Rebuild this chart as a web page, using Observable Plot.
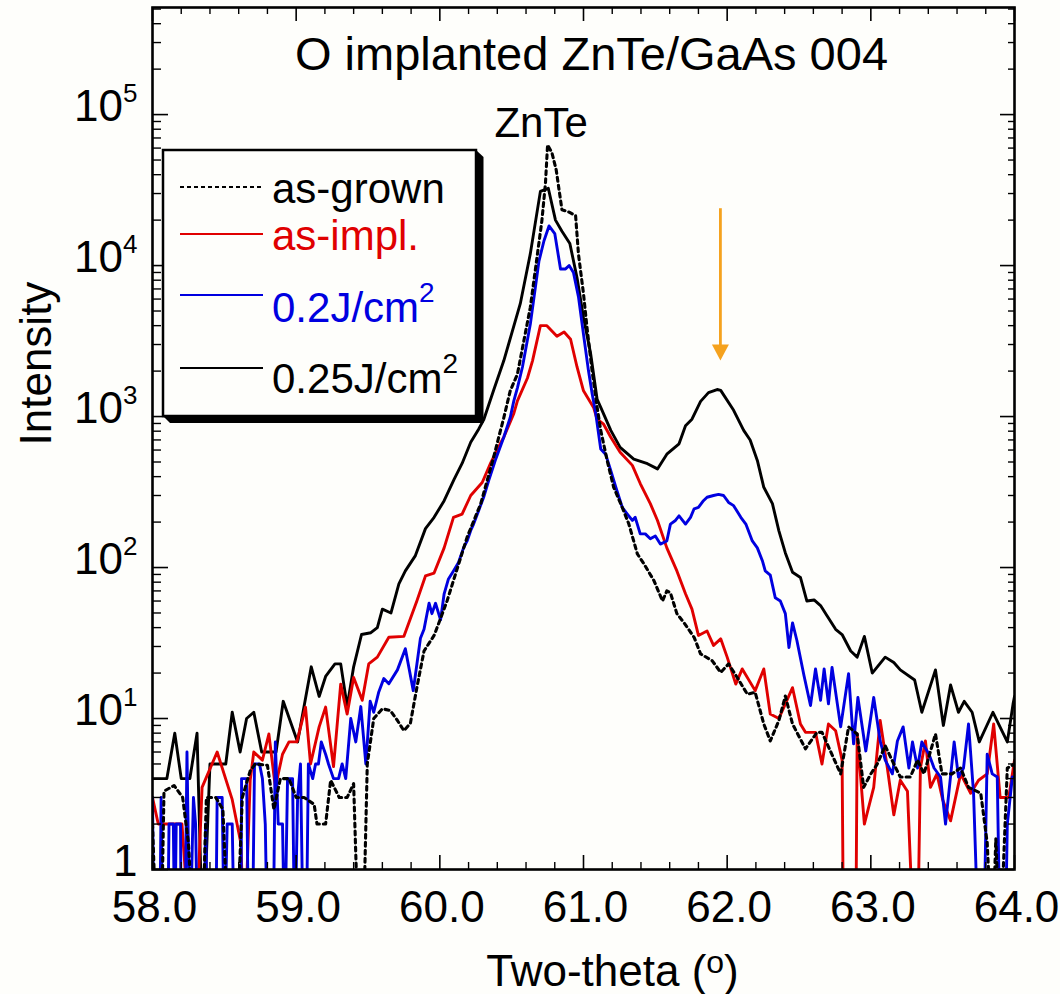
<!DOCTYPE html>
<html><head><meta charset="utf-8">
<script src="https://cdn.jsdelivr.net/npm/d3@7"></script>
<script src="https://cdn.jsdelivr.net/npm/@observablehq/plot@0.6"></script>
<style>
html,body{margin:0;padding:0;background:#fefefb;}
#chart svg{display:block;}
</style></head><body><div id="chart"></div>
<script>
// ---- data: [two-theta (deg), intensity]; values < 1 are zero-count dips (clipped) ----
const asGrown = [[58.00,2],[58.03,0.3],[58.06,0.3],[58.08,3.3],[58.15,3.6],[58.21,3],[58.25,1.5],[58.29,0.3],[58.345,0.3],[58.375,3],[58.44,3],[58.49,2.5],[58.53,0.3],[58.585,0.3],[58.625,3],[58.68,4.5],[58.715,5],[58.80,4.9],[58.845,2.5],[58.89,4],[58.95,4],[59.00,3],[59.055,3],[59.125,2.7],[59.145,2],[59.205,2],[59.24,3.9],[59.30,3],[59.355,3],[59.40,3.7],[59.435,0.3],[59.465,0.3],[59.495,5],[59.54,10],[59.60,11.6],[59.655,11.3],[59.705,9.7],[59.75,8.3],[59.795,9.3],[59.84,16],[59.89,28],[59.96,35.5],[60.005,46],[60.05,60],[60.095,82],[60.19,159],[60.285,265],[60.375,540],[60.41,730],[60.445,980],[60.49,1480],[60.54,1910],[60.63,5300],[60.71,19700],[60.735,34800],[60.75,63000],[60.78,55900],[60.81,43000],[60.85,23400],[60.90,22600],[60.945,21400],[60.965,11900],[61.00,6500],[61.025,3840],[61.06,2000],[61.095,1150],[61.12,810],[61.165,510],[61.21,340],[61.27,250],[61.315,195],[61.375,123],[61.42,106],[61.49,82],[61.55,60],[61.58,70],[61.605,68],[61.65,49.5],[61.70,43],[61.77,34.5],[61.815,26.8],[61.895,24.2],[61.955,20.2],[62.01,23],[62.07,18.7],[62.14,14.5],[62.195,14.9],[62.255,9.2],[62.30,7.1],[62.36,9.7],[62.405,14.1],[62.455,9.2],[62.545,6.3],[62.625,8.1],[62.66,8.1],[62.79,4.3],[62.845,8.8],[62.905,7.9],[62.95,3.5],[63.00,4.3],[63.045,5],[63.10,6.6],[63.16,5],[63.205,4.1],[63.275,4.1],[63.325,5.3],[63.37,4.3],[63.45,7.9],[63.495,4.3],[63.565,4.3],[63.625,4.7],[63.68,3.5],[63.765,3.2],[63.81,1.5],[63.845,0.3],[63.87,1.6],[63.90,0.3],[63.95,4.7],[64.00,5]];

const asImpl = [[58.00,3],[58.04,2],[58.205,2],[58.265,0.3],[58.30,0.3],[58.345,3.5],[58.45,6],[58.555,2.9],[58.615,1.5],[58.64,0.3],[58.68,3.9],[58.705,6],[58.765,5.3],[58.81,7.9],[58.855,3.5],[58.905,5.8],[58.95,7],[59.005,7],[59.065,11.9],[59.10,5],[59.16,8.8],[59.205,11.9],[59.26,4.8],[59.31,16.9],[59.355,10.7],[59.40,18.7],[59.46,13.2],[59.505,23],[59.565,25.5],[59.645,34.5],[59.75,35],[59.84,60],[59.90,88],[59.96,92],[60.03,135],[60.095,215],[60.155,226],[60.215,300],[60.295,366],[60.355,495],[60.42,660],[60.445,730],[60.515,1050],[60.54,1270],[60.61,1800],[60.645,2340],[60.70,4000],[60.745,4000],[60.815,3400],[60.865,3630],[60.91,3250],[60.955,2130],[61.00,1480],[61.07,1150],[61.095,960],[61.14,890],[61.19,730],[61.255,580],[61.34,475],[61.395,360],[61.465,265],[61.515,205],[61.58,135],[61.65,95],[61.71,67],[61.755,53],[61.80,35.5],[61.86,38],[61.905,30.5],[61.955,33.7],[62.00,25.5],[62.06,16.9],[62.105,21.3],[62.195,15.3],[62.255,21.3],[62.30,10.7],[62.36,10],[62.405,12.5],[62.455,16],[62.51,9.2],[62.545,8.1],[62.615,8.1],[62.66,5],[62.705,9.2],[62.755,8.3],[62.80,5.3],[62.81,0.3],[62.895,0.3],[62.905,7.9],[62.955,2],[63.02,3.5],[63.065,9.7],[63.115,4.7],[63.16,2.3],[63.205,3.9],[63.255,3.3],[63.30,0.3],[63.325,0.3],[63.345,4.7],[63.38,7.1],[63.415,3.5],[63.46,4.3],[63.50,2.9],[63.555,2.1],[63.625,4.3],[63.695,3.2],[63.75,3.9],[63.81,4.3],[63.855,9.2],[63.90,3],[63.96,3],[64.00,5.3]];

const laser020 = [[58.00,3],[58.01,0.3],[58.05,0.3],[58.06,3],[58.07,0.3],[58.105,0.3],[58.115,2],[58.145,2],[58.155,0.3],[58.165,2],[58.195,2],[58.20,0.3],[58.225,0.3],[58.24,6],[58.26,0.3],[58.285,3],[58.30,2],[58.315,0.3],[58.355,0.3],[58.37,2],[58.385,0.3],[58.44,0.3],[58.45,3],[58.485,3],[58.50,0.3],[58.52,2],[58.555,2],[58.57,0.3],[58.615,0.3],[58.62,4],[58.655,4],[58.67,0.3],[58.695,0.3],[58.71,5],[58.745,5],[58.765,4],[58.785,2],[58.80,0.3],[58.84,0.3],[58.855,7],[58.875,2],[58.905,2],[58.92,0.3],[58.94,4],[58.975,4],[58.99,0.3],[59.01,3],[59.03,5],[59.05,0.3],[59.07,0.3],[59.085,5],[59.115,4],[59.135,5],[59.155,5],[59.175,7],[59.205,5.8],[59.225,5],[59.26,4],[59.295,4],[59.32,5],[59.345,4],[59.38,10],[59.415,7],[59.45,12],[59.485,5],[59.515,13],[59.54,11],[59.575,15],[59.61,18.4],[59.645,17],[59.705,21],[59.76,29],[59.815,15.3],[59.865,34],[59.89,39],[59.925,58],[59.945,49.5],[59.97,58],[60.005,45],[60.03,67],[60.06,84],[60.095,95],[60.13,108],[60.165,135],[60.19,150],[60.215,176],[60.235,194],[60.27,238],[60.305,292],[60.34,376],[60.385,510],[60.445,730],[60.49,985],[60.515,1270],[60.54,1550],[60.575,2130],[60.63,4100],[60.69,10700],[60.725,14600],[60.76,18300],[60.80,16300],[60.84,9500],[60.875,9500],[60.90,10000],[60.93,9000],[60.965,6200],[61.00,3500],[61.035,2000],[61.06,1420],[61.085,1050],[61.12,610],[61.155,560],[61.19,438],[61.225,340],[61.27,250],[61.305,226],[61.34,205],[61.36,215],[61.395,167],[61.43,167],[61.465,155],[61.50,162],[61.535,143],[61.58,150],[61.605,194],[61.64,205],[61.665,220],[61.71,194],[61.745,215],[61.77,245],[61.80,250],[61.835,277],[61.86,292],[61.905,300],[61.94,305],[61.975,300],[62.01,270],[62.045,257],[62.095,215],[62.13,194],[62.175,150],[62.21,135],[62.245,111],[62.265,95],[62.30,89],[62.335,63],[62.37,60],[62.405,49.5],[62.43,29.5],[62.455,43],[62.485,33],[62.535,19.2],[62.58,12.2],[62.615,21.3],[62.65,13.2],[62.675,21.3],[62.705,12.5],[62.73,21.8],[62.79,8.8],[62.845,19.8],[62.88,6.8],[62.91,13.8],[62.965,6.1],[63.02,13.8],[63.065,7.1],[63.10,5.3],[63.15,4.3],[63.185,7.1],[63.225,8.8],[63.265,4.7],[63.29,7],[63.325,4.7],[63.355,7],[63.405,5.8],[63.44,4.7],[63.485,4.1],[63.52,2],[63.58,7],[63.61,4.1],[63.645,4.7],[63.68,9.2],[63.715,3.2],[63.75,0.3],[63.785,0.3],[63.81,5.8],[63.845,4.3],[63.88,4.1],[63.90,0.3],[63.935,0.3],[63.95,2],[63.985,4.1],[64.00,4.1]];

const laser025 = [[58.00,4],[58.10,4],[58.155,8],[58.20,4],[58.26,4],[58.31,8],[58.35,0.3],[58.40,5],[58.51,5],[58.555,11],[58.61,6],[58.655,10],[58.705,11],[58.76,6],[58.86,6],[58.91,13],[59.01,7],[59.105,22],[59.16,14],[59.205,19],[59.27,23],[59.31,23],[59.355,12],[59.40,22],[59.455,36],[59.52,37],[59.565,40],[59.60,53],[59.66,50],[59.715,78],[59.76,95],[59.83,120],[59.90,181],[59.96,215],[60.03,277],[60.10,385],[60.155,489],[60.215,675],[60.27,825],[60.305,950],[60.375,1500],[60.445,2340],[60.56,5590],[60.63,12000],[60.70,31000],[60.755,32500],[60.805,20000],[60.85,16900],[60.905,14000],[60.955,8300],[61.00,4530],[61.05,2600],[61.095,1300],[61.12,1150],[61.19,810],[61.255,625],[61.35,522],[61.445,487],[61.515,450],[61.58,563],[61.665,660],[61.71,870],[61.755,960],[61.815,1260],[61.87,1440],[61.93,1510],[61.955,1490],[62.045,1100],[62.115,810],[62.16,700],[62.21,512],[62.255,340],[62.315,265],[62.36,175],[62.405,125],[62.455,93],[62.51,86],[62.555,60],[62.605,61],[62.65,56],[62.695,48],[62.755,39],[62.80,36],[62.86,28],[62.905,25.5],[62.955,35],[63.01,20],[63.10,25.5],[63.16,23.5],[63.205,21],[63.305,18],[63.355,11],[63.45,21],[63.505,9],[63.555,16.7],[63.61,11],[63.65,13],[63.705,11],[63.755,7],[63.85,11],[63.95,7],[63.99,12.5],[64.00,14]];

// ---- labels & ticks ----
const seriesNames  = ["as-grown", "as-impl.", "0.2J/cm^2", "0.25J/cm^2"];
const seriesColors = ["#000000", "#e00000", "#0000e0", "#000000"];
const xMajorTicks = [58, 59, 60, 61, 62, 63, 64];
const xMinorTicks = [58.2,58.4,58.6,58.8,59.2,59.4,59.6,59.8,60.2,60.4,60.6,60.8,61.2,61.4,61.6,61.8,62.2,62.4,62.6,62.8,63.2,63.4,63.6,63.8];
const yMajorTicks = [1, 10, 100, 1000, 10000, 100000];
const yMinorSteps = [2, 3, 4, 5, 6, 7, 8, 9];
const titleText = "O implanted ZnTe/GaAs 004";
const xTitle = "Two-theta (^o)";
const yTitle = "Intensity";
const peakLabel = [{x: 60.705, y: 70800, text: "ZnTe"}];
const arrowMark = [{x: 61.953, top: 23800, tip: 2350}];
const yMax = 5.12e5;

const font = "'Liberation Sans', Arial, Helvetica, sans-serif";
const orange = "#f5a21e";
const W = 1060, H = 994, mL = 152, mR = 46, mT = 7, mB = 125;
const fw = W - mL - mR, fh = H - mT - mB;

const rows = arr => arr.map(([t, v]) => ({t, v}));
const yMinorTicks = yMajorTicks.flatMap(d => yMinorSteps.map(m => d * m)).filter(v => v <= yMax);
const downTri = {draw(ctx) { ctx.moveTo(0, 0); ctx.lineTo(-8.5, -16); ctx.lineTo(8.5, -16); ctx.closePath(); }};

const chart = Plot.plot({
  width: W, height: H,
  marginLeft: mL, marginRight: mR, marginTop: mT, marginBottom: mB,
  style: {fontFamily: font, background: "transparent", color: "#000", overflow: "visible"},
  x: {domain: [58, 64], axis: null},
  y: {type: "log", domain: [1, yMax], axis: null},
  marks: [
    Plot.line(rows(laser025), {x: "t", y: "v", stroke: seriesColors[3], strokeWidth: 2.9, clip: true}),
    Plot.line(rows(asImpl),   {x: "t", y: "v", stroke: seriesColors[1], strokeWidth: 2.9, clip: true}),
    Plot.line(rows(laser020), {x: "t", y: "v", stroke: seriesColors[2], strokeWidth: 2.9, clip: true}),
    Plot.line(rows(asGrown),  {x: "t", y: "v", stroke: seriesColors[0], strokeWidth: 3.1, strokeDasharray: "4,4", clip: true}),
    // inward ticks on all four sides
    Plot.tickX(xMajorTicks, {x: d => d, insetTop: fh - 14, strokeWidth: 1.6}),
    Plot.tickX(xMajorTicks, {x: d => d, insetBottom: fh - 14, strokeWidth: 1.6}),
    Plot.tickX(xMinorTicks, {x: d => d, insetTop: fh - 7, strokeWidth: 1.4}),
    Plot.tickX(xMinorTicks, {x: d => d, insetBottom: fh - 7, strokeWidth: 1.4}),
    Plot.tickY(yMajorTicks, {y: d => d, insetRight: fw - 16, strokeWidth: 1.6}),
    Plot.tickY(yMajorTicks, {y: d => d, insetLeft: fw - 14, strokeWidth: 1.6}),
    Plot.tickY(yMinorTicks, {y: d => d, insetRight: fw - 9, strokeWidth: 1.4}),
    Plot.tickY(yMinorTicks, {y: d => d, insetLeft: fw - 6, strokeWidth: 1.4}),
    Plot.frame({stroke: "#000", strokeWidth: 2.6}),
    // tick labels
    Plot.text(xMajorTicks, {x: d => d, frameAnchor: "bottom", text: d => d.toFixed(1), lineAnchor: "bottom", dy: 52, dx: 2, fontSize: 44}),
    Plot.text(yMajorTicks, {y: d => d, frameAnchor: "left", text: d => d === 1 ? "1" : "10^" + Math.round(Math.log10(d)), textAnchor: "end", lineAnchor: "bottom", dy: 6, dx: -15, fontSize: 44}),
    // titles
    Plot.text([xTitle], {frameAnchor: "bottom", text: d => d, lineAnchor: "bottom", dy: 116, dx: 29, fontSize: 44}),
    Plot.text([yTitle], {frameAnchor: "left", text: d => d, rotate: -90, lineAnchor: "bottom", dx: -102, dy: 7, fontSize: 44}),
    Plot.text([titleText], {frameAnchor: "top", text: d => d, lineAnchor: "bottom", dy: 62, dx: 8, fontSize: 47}),
    Plot.text(peakLabel, {x: "x", y: "y", text: "text", lineAnchor: "bottom", fontSize: 42}),
    // orange arrow
    Plot.ruleX(arrowMark, {x: "x", y1: "top", y2: "tip", stroke: orange, strokeWidth: 2.8, insetBottom: 10}),
    Plot.dot(arrowMark, {x: "x", y: "tip", symbol: downTri, fill: orange, stroke: "none", r: 5})
  ]
});

document.getElementById("chart").appendChild(chart);
const svg = d3.select(chart);

// ---- legend (inside plot, boxed with drop shadow) ----
const lg = svg.append("g").attr("font-family", font).attr("text-anchor", "start");
lg.append("polygon").attr("points", "476,150 483.5,157 483.5,423 170,423 163,416").attr("fill", "#000");
lg.append("rect").attr("x", 163).attr("y", 150).attr("width", 313).attr("height", 266)
  .attr("fill", "#fefefb").attr("stroke", "#000").attr("stroke-width", 2.5);
const legendRows = [187, 234, 295, 368];
const legendBase = [203, 250, 322, 393];
seriesNames.forEach((name, i) => {
  lg.append("line").attr("x1", 180).attr("x2", 263).attr("y1", legendRows[i]).attr("y2", legendRows[i])
    .attr("stroke", seriesColors[i]).attr("stroke-width", i === 0 ? 2.2 : 2)
    .attr("stroke-dasharray", i === 0 ? "4,3" : null);
  lg.append("text").attr("x", 272).attr("y", legendBase[i]).attr("font-size", 42)
    .attr("text-anchor", "start")
    .attr("fill", i === 1 ? seriesColors[1] : i === 2 ? seriesColors[2] : "#000").text(name);
});

// ---- superscripts: "^x" -> raised tspan ----
function supify(el, supSize, shift) {
  const parts = el.textContent.split(/\^(.)/);
  el.textContent = "";
  parts.forEach((p, k) => {
    if (k % 2 === 1) {
      d3.select(el).append("tspan").attr("dy", -shift).attr("font-size", supSize).text(p);
    } else if (p) {
      const t = d3.select(el).append("tspan").text(p);
      if (k > 0) t.attr("dy", shift);
    }
  });
}
svg.selectAll("text").each(function () {
  const s = this.textContent;
  if (!s.includes("^")) return;
  if (s.startsWith("10^")) supify(this, 26, 19);
  else if (s.startsWith("Two")) supify(this, 32, 13);
  else supify(this, 28, 20);
});
</script></body></html>
